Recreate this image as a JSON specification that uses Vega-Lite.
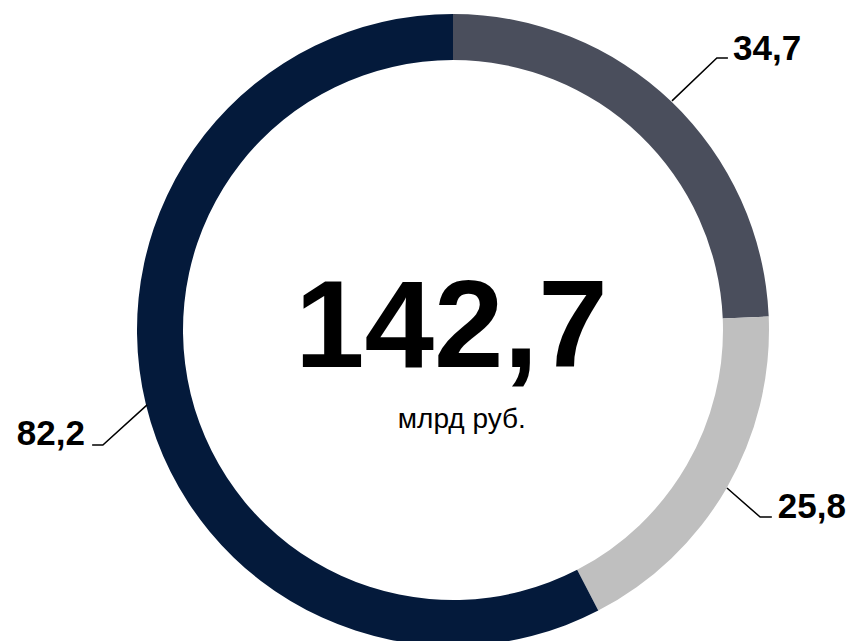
{
  "$schema": "https://vega.github.io/schema/vega-lite/v6.json",
  "autosize": {"type": "none"},
  "width": 796,
  "height": 622,
  "padding": {"left": 55, "top": 19, "right": 0, "bottom": 0},
  "background": "#ffffff",
  "config": {"view": {"stroke": null}, "font": "Liberation Sans"},
  "datasets": {
    "segments": [
      {"name": "A", "value": 34.7, "order": 1},
      {"name": "B", "value": 25.8, "order": 2},
      {"name": "C", "value": 82.2, "order": 3}
    ],
    "leaders": [
      {"seg": "A", "i": 0, "x": 69.3, "y": 72.5},
      {"seg": "A", "i": 1, "x": 83.5, "y": 86.1},
      {"seg": "A", "i": 2, "x": 87.0, "y": 86.1},
      {"seg": "B", "i": 0, "x": 86.7, "y": -50.0},
      {"seg": "B", "i": 1, "x": 97.2, "y": -59.2},
      {"seg": "B", "i": 2, "x": 100.9, "y": -59.2},
      {"seg": "C", "i": 0, "x": -96.8, "y": -23.7},
      {"seg": "C", "i": 1, "x": -110.8, "y": -36.4},
      {"seg": "C", "i": 2, "x": -114.2, "y": -36.4}
    ],
    "labelsLeft": [
      {"label": "34,7", "x": 88.6, "y": 85.4},
      {"label": "25,8", "x": 102.8, "y": -59.5}
    ],
    "labelsRight": [
      {"label": "82,2", "x": -116.5, "y": -36.4}
    ],
    "center": [
      {"label": "142,7", "x": -0.5, "y": -11.7}
    ],
    "unit": [
      {"label": "млрд руб.", "x": 2.8, "y": -31.0}
    ]
  },
  "layer": [
    {
      "data": {"name": "segments"},
      "mark": {"type": "arc", "outerRadius": 316, "innerRadius": 270},
      "encoding": {
        "theta": {"field": "value", "type": "quantitative", "stack": true},
        "order": {"field": "order", "type": "quantitative"},
        "color": {
          "field": "name",
          "type": "nominal",
          "scale": {"domain": ["A", "B", "C"], "range": ["#4a4e5c", "#bfbfbf", "#041a3b"]},
          "legend": null
        }
      }
    },
    {
      "data": {"name": "leaders"},
      "mark": {"type": "line", "color": "#000000", "strokeWidth": 1.5},
      "encoding": {
        "x": {"field": "x", "type": "quantitative", "scale": {"domain": [-125.95, 125.95], "nice": false, "zero": false}, "axis": null},
        "y": {"field": "y", "type": "quantitative", "scale": {"domain": [-98.42, 98.42], "nice": false, "zero": false}, "axis": null},
        "detail": {"field": "seg"},
        "order": {"field": "i", "type": "quantitative"}
      }
    },
    {
      "data": {"name": "labelsLeft"},
      "mark": {"type": "text", "fontSize": 35, "fontWeight": "bold", "baseline": "alphabetic", "align": "left", "color": "#000000"},
      "encoding": {
        "x": {"field": "x", "type": "quantitative", "scale": {"domain": [-125.95, 125.95], "nice": false, "zero": false}, "axis": null},
        "y": {"field": "y", "type": "quantitative", "scale": {"domain": [-98.42, 98.42], "nice": false, "zero": false}, "axis": null},
        "text": {"field": "label"}
      }
    },
    {
      "data": {"name": "labelsRight"},
      "mark": {"type": "text", "fontSize": 35, "fontWeight": "bold", "baseline": "alphabetic", "align": "right", "color": "#000000"},
      "encoding": {
        "x": {"field": "x", "type": "quantitative", "scale": {"domain": [-125.95, 125.95], "nice": false, "zero": false}, "axis": null},
        "y": {"field": "y", "type": "quantitative", "scale": {"domain": [-98.42, 98.42], "nice": false, "zero": false}, "axis": null},
        "text": {"field": "label"}
      }
    },
    {
      "data": {"name": "center"},
      "mark": {"type": "text", "fontSize": 125, "fontWeight": "bold", "baseline": "alphabetic", "align": "center", "color": "#000000"},
      "encoding": {
        "x": {"field": "x", "type": "quantitative", "scale": {"domain": [-125.95, 125.95], "nice": false, "zero": false}, "axis": null},
        "y": {"field": "y", "type": "quantitative", "scale": {"domain": [-98.42, 98.42], "nice": false, "zero": false}, "axis": null},
        "text": {"field": "label"}
      }
    },
    {
      "data": {"name": "unit"},
      "mark": {"type": "text", "fontSize": 28, "baseline": "alphabetic", "align": "center", "color": "#000000"},
      "encoding": {
        "x": {"field": "x", "type": "quantitative", "scale": {"domain": [-125.95, 125.95], "nice": false, "zero": false}, "axis": null},
        "y": {"field": "y", "type": "quantitative", "scale": {"domain": [-98.42, 98.42], "nice": false, "zero": false}, "axis": null},
        "text": {"field": "label"}
      }
    }
  ]
}
